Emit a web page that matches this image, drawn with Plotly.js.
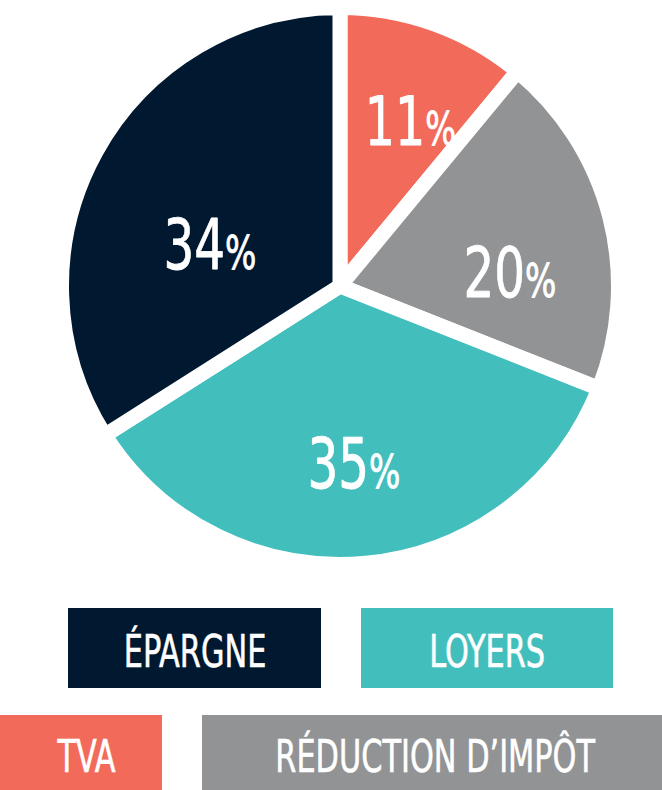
<!DOCTYPE html>
<html>
<head>
<meta charset="utf-8">
<script src="https://cdn.plot.ly/plotly-3.0.1.min.js"></script>
<style>html,body{margin:0;padding:0;background:#fff;}#chart{width:662px;height:790px;}</style>
</head>
<body>
<div id="chart"></div>
<script>
const categories = ["TVA", "RÉDUCTION D’IMPÔT", "LOYERS", "ÉPARGNE"];
const values = [11, 20, 35, 34];
const colors = ["#f26a5a", "#929395", "#42bfbd", "#001830"];
const legendLabels = ["ÉPARGNE", "LOYERS", "TVA", "RÉDUCTION D’IMPÔT"];
const legendColors = ["#001830", "#42bfbd", "#f26a5a", "#929395"];

const FONT = '"DejaVu Sans Condensed", "DejaVu Sans", sans-serif';
const W = 662, H = 790;
const px = x => x / W;
const py = y => 1 - y / H;
const PIE_SQUEEZE = 0.78;     // horizontal compression to mimic a tall condensed typeface
const LEGEND_SQUEEZE = 0.75;
const LABEL_DROP = 31;        // pie label vertical offset (px)

const boxes = [[68, 608, 321, 688], [361, 608, 613, 688], [-5, 715, 162, 795], [202, 715, 667, 795]];

const shapes = boxes.map((b, i) => ({
  type: 'rect', xref: 'paper', yref: 'paper',
  x0: px(b[0]), x1: px(b[2]), y0: py(b[3]), y1: py(b[1]),
  fillcolor: legendColors[i], line: {width: 0}, layer: 'above'
}));
const textCenters = [[194.5, 651], [487, 651], [87, 756], [436, 756]];
const annotations = legendLabels.map((t, i) => ({
  text: t, xref: 'paper', yref: 'paper',
  x: px(textCenters[i][0]), y: py(textCenters[i][1]),
  xanchor: 'center', yanchor: 'middle', showarrow: false,
  font: {family: FONT, size: 45, color: '#ffffff'}
}));

const trace = {
  type: 'pie',
  labels: categories,
  values: values,
  sort: false,
  direction: 'clockwise',
  rotation: 0,
  marker: {colors: colors, line: {color: '#ffffff', width: 15}},
  texttemplate: '%{value}<span style="font-size:47px">%</span>',
  textposition: 'inside',
  insidetextorientation: 'horizontal',
  textfont: {family: FONT, size: 69, color: '#ffffff'},
  hoverinfo: 'none',
  domain: {x: [px(61.5), px(618.5)], y: [py(564.5), py(7.5)]}
};

function squeeze(el, sx, dy, sw) {
  const bb = el.getBBox();
  const cx = bb.x + bb.width / 2;
  const cur = el.getAttribute('transform') || '';
  el.setAttribute('transform',
    (dy ? 'translate(0,' + dy + ') ' : '') + cur +
    ' translate(' + cx + ',0) scale(' + sx + ',1) translate(' + (-cx) + ',0)');
  el.style.stroke = '#ffffff';
  el.style.strokeWidth = sw + 'px';
  el.style.paintOrder = 'stroke';
}

Plotly.newPlot('chart', [trace], {
  width: W, height: H,
  margin: {l: 0, r: 0, t: 0, b: 0},
  paper_bgcolor: '#ffffff',
  showlegend: false,
  shapes: shapes,
  annotations: annotations
}, {staticPlot: true}).then(gd => {
  gd.querySelectorAll('text.slicetext').forEach(el => squeeze(el, PIE_SQUEEZE, LABEL_DROP, 0.8));
  gd.querySelectorAll('text.annotation-text').forEach(el => squeeze(el, LEGEND_SQUEEZE, 0, 0.6));
});
</script>
</body>
</html>
